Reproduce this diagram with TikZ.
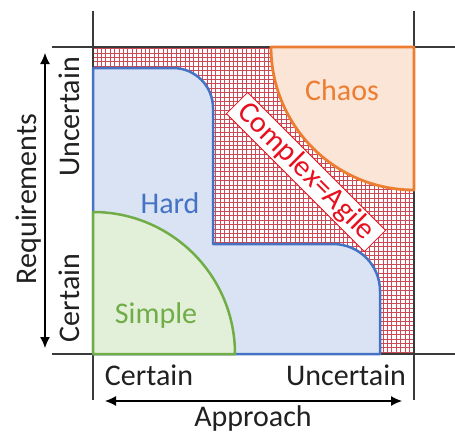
\documentclass[tikz,border=0pt]{standalone}
\usepackage{fontspec}
\setmainfont{Carlito}
\usetikzlibrary{arrows.meta}
\definecolor{hardblue}{HTML}{4472C4}
\definecolor{hardfill}{HTML}{DAE3F3}
\definecolor{simplegreen}{HTML}{70AD47}
\definecolor{simplefill}{HTML}{E2F0D9}
\definecolor{chaosorange}{HTML}{ED7D31}
\definecolor{chaosfill}{HTML}{FBE5D6}
\definecolor{agilered}{HTML}{E8101E}
\definecolor{gridred}{HTML}{CC4A55}
\definecolor{axisgray}{HTML}{3A3A3A}
\definecolor{textdark}{HTML}{202020}
\begin{document}
\begin{tikzpicture}[x=1pt,y=-1pt,
  lbl/.style={font=\fontsize{30}{36}\selectfont, text=textdark, inner sep=0pt, anchor=base},
  axisline/.style={draw=axisgray, line width=1.2pt},
  axisarrow/.style={draw=black, line width=1.2pt, {Latex[length=11pt,width=10pt]}-{Latex[length=11pt,width=10pt]}},
  region/.style={line width=2.5pt, line join=round},
  gridline/.style={draw=gridred, line width=0.45pt}]
\useasboundingbox (0,0) rectangle (455,431);
% hatched square
\begin{scope}
  \clip (93,47) rectangle (414,354);
  \fill[white] (93,47) rectangle (414,354);
  \draw[gridline] (93,47) grid[step=4.4pt] (414,354);
\end{scope}
% axis lines
\draw[axisline] (93,11) -- (93,400);
\draw[axisline] (414,11) -- (414,400);
\draw[axisline] (52,47) -- (455,47);
\draw[axisline] (52,354) -- (455,354);
% Hard region
\draw[region, draw=hardblue, fill=hardfill]
  (93,354) -- (93,68) -- (173,68) arc(-90:0:40) -- (213,244) -- (333,244) arc(-90:0:47) -- (380,354) -- cycle;
% Simple region
\draw[region, draw=simplegreen, fill=simplefill]
  (93,354) -- (93,212) arc(-90:0:142) -- cycle;
% Chaos region
\draw[region, line width=2.8pt, draw=chaosorange, fill=chaosfill]
  (414,47) -- (271,47) arc(180:90:143) -- cycle;
% region labels
\node[lbl, text=chaosorange] (chaos) at (342,100) {Chaos};
\node[lbl, text=hardblue] (hard) at (170,213) {Hard};
\node[lbl, text=simplegreen] (simple) at (156,323) {Simple};
\node[font=\fontsize{30}{36}\selectfont, text=agilered, draw=agilered, line width=0.8pt, fill=white,
  inner xsep=7pt, inner ysep=2pt, rotate=-45] (agile) at (306,172) {Complex=Agile};
% axis labels
\node[lbl] (xcertain) at (149,385) {Certain};
\node[lbl] (xuncertain) at (346,385) {Uncertain};
\node[lbl] (approach) at (253,426) {Approach};
\node[lbl, rotate=90] (yuncertain) at (79,117) {Uncertain};
\node[lbl, rotate=90] (ycertain) at (79,298) {Certain};
\node[lbl, rotate=90] (requirements) at (36,199) {Requirements};
% arrows
\coordinate (xl) at (105,401);
\coordinate (xr) at (402,401);
\coordinate (yt) at (45,53);
\coordinate (yb) at (45,348);
\draw[axisarrow] (xl) -- (xr);
\draw[axisarrow] (yt) -- (yb);
\end{tikzpicture}
\end{document}
